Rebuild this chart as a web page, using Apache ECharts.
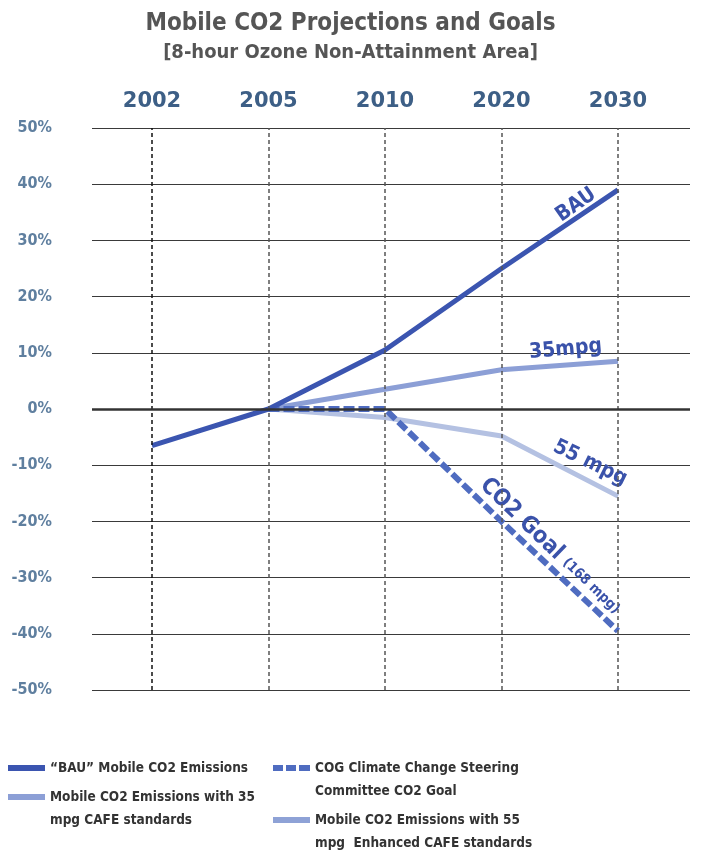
<!DOCTYPE html>
<html><head><meta charset="utf-8">
<script src="https://cdn.jsdelivr.net/npm/echarts@6/dist/echarts.min.js"></script>
<style>html,body{margin:0;padding:0;background:#fff}#c{width:701px;height:855px}</style>
</head><body><div id="c"></div>
<script>
const categories = ['2002', '2005', '2010', '2020', '2030'];
const bauValues = [-6.5, 0, 10.5, 25, 39];
const mpg35Values = [null, 0, 3.5, 7, 8.5];
const mpg55Values = [null, 0, -1.5, -4.8, -15.5];
const goalValues = [null, 0, 0, -20, -39.5];
const yTickValues = [-50, -40, -30, -20, -10, 0, 10, 20, 30, 40, 50];

const FONT = "'DejaVu Sans Condensed', sans-serif";
const toPairs = arr => arr.map((v, i) => v === null ? null : [i, v]).filter(p => p);

const names = {
  bau: '\u201CBAU\u201D Mobile CO2 Emissions',
  m35: 'Mobile CO2 Emissions with 35\nmpg CAFE standards',
  goal: 'COG Climate Change Steering\nCommittee CO2 Goal',
  m55: 'Mobile CO2 Emissions with 55\nmpg  Enhanced CAFE standards'
};

const chart = echarts.init(document.getElementById('c'));
const LH = 23;
const legendText = {color: '#333', fontWeight: 'bold', fontSize: 13.5, fontFamily: FONT, lineHeight: LH};
const solidIcon = 'rect';
const dashIcon = 'path://M0,0h10v6h-10z M13,0h10v6h-10z M26,0h11v6h-11z';
// iconY: vertical centre of the first text line
function mkLegend(name, left, iconY, twoLine, icon) {
  return {
    data: [name], left: left, top: twoLine ? iconY - 1.5 * LH : iconY - 0.5 * LH,
    orient: 'vertical', padding: 0, icon: icon,
    itemWidth: 37, itemHeight: 6, itemGap: 0, selectedMode: false,
    formatter: n => twoLine ? '\n' + n : n,
    textStyle: legendText
  };
}

chart.setOption({
  animation: false,
  title: [
    {text: 'Mobile CO2 Projections and Goals', left: 'center', top: 7,
     textStyle: {color: '#555', fontSize: 24, fontWeight: 'bold', fontFamily: FONT}},
    {text: '[8-hour Ozone Non-Attainment Area]', left: 'center', top: 38,
     textStyle: {color: '#555', fontSize: 20, fontWeight: 'bold', fontFamily: FONT}}
  ],
  legend: [
    mkLegend(names.bau, 8, 768, false, solidIcon),
    mkLegend(names.m35, 8, 797, true, solidIcon),
    mkLegend(names.goal, 273, 768, true, dashIcon),
    mkLegend(names.m55, 273, 820, true, solidIcon)
  ],
  grid: {left: 92, right: 11, top: 128, bottom: 165},
  xAxis: {type: 'value', min: -0.515, max: 4.618, show: false},
  yAxis: {
    type: 'value', min: -50, max: 50, interval: 10,
    axisLine: {show: false}, axisTick: {show: false},
    axisLabel: {formatter: v => yTickValues.includes(v) ? v + '%' : '', margin: 40, color: '#5f7f9f',
      fontWeight: 'bold', fontSize: 16, fontFamily: FONT},
    splitLine: {lineStyle: {color: '#3a3a3a', width: 1}}
  },
  series: [
    {
      name: 'guides', type: 'line', data: [], silent: true,
      markLine: {
        silent: true, symbol: 'none', animation: false,
        label: {show: true, position: 'end', distance: 16, formatter: p => categories[p.value] || '',
          color: '#3d5f86', fontWeight: 'bold', fontSize: 21, fontFamily: "'DejaVu Sans', sans-serif"},
        data: categories.map((c, i) => ({
          xAxis: i,
          lineStyle: {color: i === 0 ? '#111' : '#555', type: [4, 3], width: 1.5}
        })).concat([{yAxis: 0, label: {show: false}, lineStyle: {color: '#333', type: 'solid', width: 2.5}}])
      }
    },
    {name: names.m55, type: 'line', data: toPairs(mpg55Values), symbol: 'none',
     lineStyle: {color: '#b4c1e2', width: 5}, itemStyle: {color: '#8ea2d6'}},
    {name: names.m35, type: 'line', data: toPairs(mpg35Values), symbol: 'none',
     lineStyle: {color: '#8c9fd6', width: 5}, itemStyle: {color: '#8c9fd6'}},
    {name: names.goal, type: 'line', data: toPairs(goalValues), symbol: 'none',
     lineStyle: {color: '#4f6cc0', width: 6, type: [11, 4]}, itemStyle: {color: '#4f6cc0'}},
    {name: names.bau, type: 'line', data: toPairs(bauValues), symbol: 'none',
     lineStyle: {color: '#3b55b0', width: 5}, itemStyle: {color: '#3b55b0'}}
  ]
});

const annoColor = '#3a52aa';
const annos = [
  {pos: [3.64, 36.3], rot: 35, text: 'BAU'},
  {pos: [3.55, 10.6], rot: 5, text: '35mpg'},
  {pos: [3.76, -9.6], rot: -26, text: '55 mpg'},
  {pos: [3.42, -24.5], rot: -44, text: '{a|CO2 Goal} {b|(168 mpg)}'}
];
chart.setOption({
  graphic: annos.map(a => {
    const p = chart.convertToPixel({gridIndex: 0}, a.pos);
    return {
      type: 'text', x: p[0], y: p[1], rotation: a.rot * Math.PI / 180, silent: true,
      style: {
        text: a.text, fill: annoColor, font: "bold 21px 'DejaVu Sans Condensed', sans-serif",
        align: 'center', verticalAlign: 'middle',
        rich: {a: {fontSize: 23, fontWeight: 'bold', fill: annoColor, fontFamily: FONT},
               b: {fontSize: 14, fontWeight: 'bold', fill: annoColor, fontFamily: FONT}}
      }
    };
  })
});
</script></body></html>
